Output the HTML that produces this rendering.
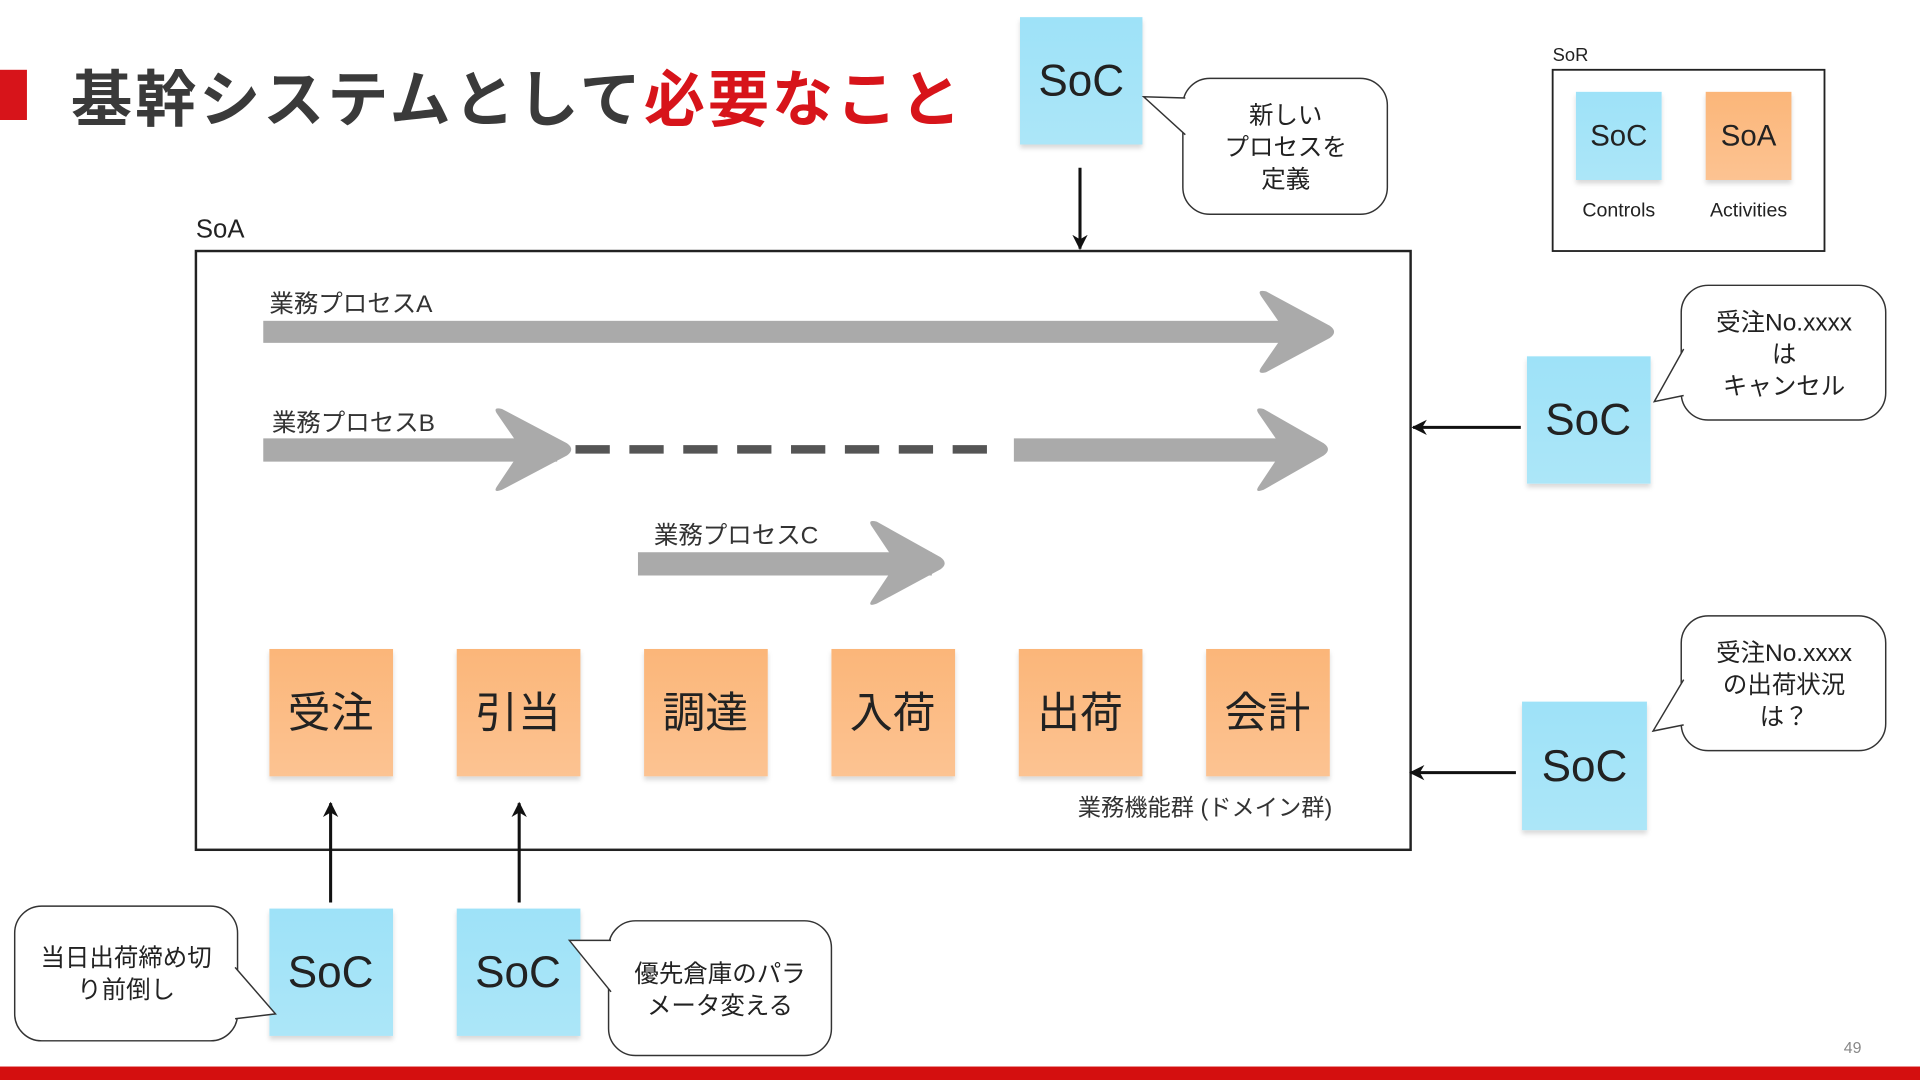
<!DOCTYPE html>
<html><head><meta charset="utf-8"><style>
html,body{margin:0;padding:0;background:#fff;width:1920px;height:1080px;overflow:hidden}
svg{display:block}
text{font-family:"Liberation Sans","Noto Sans CJK JP",sans-serif}
</style></head><body>
<svg width="1920" height="1080" viewBox="0 0 1568 882" preserveAspectRatio="none" xmlns="http://www.w3.org/2000/svg">
<defs>
<linearGradient id="b" x1="0" y1="0" x2="0" y2="1"><stop offset="0" stop-color="#9ee2f8"/><stop offset="1" stop-color="#ace6f8"/></linearGradient>
<linearGradient id="o" x1="0" y1="0" x2="0" y2="1"><stop offset="0" stop-color="#fbb679"/><stop offset="1" stop-color="#fcc392"/></linearGradient>
<filter id="s" x="-10%" y="-10%" width="120%" height="125%"><feDropShadow dx="0" dy="3" stdDeviation="2" flood-color="#000" flood-opacity="0.15"/></filter>
<marker id="ah" viewBox="0 0 10 10" refX="9" refY="5" markerWidth="5" markerHeight="5" orient="auto"><path d="M0,0 L10,5 L0,10 L3,5 z" fill="#111"/></marker>
</defs>

<!-- title -->
<rect x="0" y="57" width="22" height="41" fill="#d7141a"/>
<text x="58" y="99" font-size="50" font-weight="bold" fill="#3a3a3a" textLength="727" lengthAdjust="spacing">基幹システムとして<tspan fill="#d7141a">必要なこと</tspan></text>

<!-- legend -->
<text x="1268" y="50" font-size="15" fill="#222">SoR</text>
<rect x="1268" y="57" width="222" height="148" fill="#fff" stroke="#222" stroke-width="1.5"/>
<rect x="1287" y="75" width="70" height="72" fill="url(#b)" filter="url(#s)"/>
<rect x="1393" y="75" width="70" height="72" fill="url(#o)" filter="url(#s)"/>
<text x="1322" y="119" font-size="24" text-anchor="middle" fill="#222">SoC</text>
<text x="1428" y="119" font-size="24" text-anchor="middle" fill="#222">SoA</text>
<text x="1322" y="177" font-size="16" text-anchor="middle" fill="#222">Controls</text>
<text x="1428" y="177" font-size="16" text-anchor="middle" fill="#222">Activities</text>

<!-- SoA box -->
<text x="160" y="194" font-size="21" fill="#222">SoA</text>
<rect x="160" y="205" width="992" height="489" fill="#fff" stroke="#222" stroke-width="2"/>

<!-- process arrows -->
<g fill="#aaaaaa">
<text x="220" y="255" font-size="20" fill="#333">業務プロセスA</text>
<rect x="215" y="262" width="850" height="18"/>
<path d="M1030,242 Q1026,236 1034,238 L1086,266 Q1093,271 1086,276 L1034,304 Q1026,306 1030,300 L1050,271 Z"/>
<text x="222" y="352" font-size="20" fill="#333">業務プロセスB</text>
<rect x="215" y="358" width="240" height="19"/>
<path d="M406,338 Q402,332 410,334 L463,362 Q470,367 463,372 L410,400 Q402,403 406,397 L426,367 Z"/>
<rect x="828" y="358" width="235" height="19"/>
<path d="M1028,338 Q1024,332 1032,334 L1081,362 Q1088,367 1081,372 L1032,400 Q1024,403 1028,397 L1048,367 Z"/>
<text x="534" y="444" font-size="20" fill="#333">業務プロセスC</text>
<rect x="521" y="451" width="240" height="19"/>
<path d="M712,430 Q708,424 716,426 L768,455 Q775,460 768,465 L716,493 Q708,496 712,490 L732,460 Z"/>
</g>
<line x1="470" y1="367" x2="822" y2="367" stroke="#555" stroke-width="7" stroke-dasharray="28,16"/>

<!-- activity boxes -->
<g filter="url(#s)">
<rect x="220" y="530" width="101" height="104" fill="url(#o)"/>
<rect x="373" y="530" width="101" height="104" fill="url(#o)"/>
<rect x="526" y="530" width="101" height="104" fill="url(#o)"/>
<rect x="679" y="530" width="101" height="104" fill="url(#o)"/>
<rect x="832" y="530" width="101" height="104" fill="url(#o)"/>
<rect x="985" y="530" width="101" height="104" fill="url(#o)"/>
</g>
<g font-size="35" text-anchor="middle" fill="#222">
<text x="270" y="594">受注</text><text x="423" y="594">引当</text><text x="576" y="594">調達</text>
<text x="729" y="594">入荷</text><text x="882" y="594">出荷</text><text x="1035" y="594">会計</text>
</g>
<text x="1088" y="666" font-size="19" text-anchor="end" fill="#333">業務機能群 (ドメイン群)</text>

<!-- SoC notes -->
<g filter="url(#s)">
<rect x="833" y="14" width="100" height="104" fill="url(#b)"/>
<rect x="1247" y="291" width="101" height="104" fill="url(#b)"/>
<rect x="1243" y="573" width="102" height="105" fill="url(#b)"/>
<rect x="220" y="742" width="101" height="104" fill="url(#b)"/>
<rect x="373" y="742" width="101" height="104" fill="url(#b)"/>
</g>
<g font-size="36" text-anchor="middle" fill="#222">
<text x="883" y="78">SoC</text>
<text x="1297" y="355">SoC</text>
<text x="1294" y="638">SoC</text>
<text x="270" y="806">SoC</text>
<text x="423" y="806">SoC</text>
</g>

<!-- connectors -->
<g stroke="#111" stroke-width="2.5" marker-end="url(#ah)">
<line x1="882" y1="137" x2="882" y2="203"/>
<line x1="1242" y1="349" x2="1154" y2="349"/>
<line x1="1238" y1="631" x2="1152" y2="631"/>
<line x1="270" y1="737" x2="270" y2="656"/>
<line x1="424" y1="737" x2="424" y2="656"/>
</g>

<!-- bubbles -->
<g fill="#fff" stroke="#333" stroke-width="1.2">
<rect x="966" y="64" width="167" height="111" rx="22"/>
<polyline points="968,80 934,79 968,110"/>
<rect x="1373" y="233" width="167" height="110" rx="22"/>
<polyline points="1375,285 1351,328 1375,323"/>
<rect x="1373" y="503" width="167" height="110" rx="22"/>
<polyline points="1375,555 1350,597 1375,592"/>
<rect x="12" y="740" width="182" height="110" rx="22"/>
<polyline points="192,790 225,828 192,832"/>
<rect x="497" y="752" width="182" height="110" rx="22"/>
<polyline points="499,768 465,768 499,810"/>
</g>
<g font-size="20" text-anchor="middle" fill="#222">
<text x="1050" y="101">新しい</text><text x="1050" y="127">プロセスを</text><text x="1050" y="153">定義</text>
<text x="1457" y="270">受注No.xxxx</text><text x="1457" y="296">は</text><text x="1457" y="322">キャンセル</text>
<text x="1457" y="540">受注No.xxxx</text><text x="1457" y="566">の出荷状況</text><text x="1457" y="592">は？</text>
<text x="103" y="789">当日出荷締め切</text><text x="103" y="815">り前倒し</text>
<text x="588" y="802">優先倉庫のパラ</text><text x="588" y="828">メータ変える</text>
</g>

<text x="1513" y="860" font-size="13" text-anchor="middle" fill="#888">49</text>
<rect x="0" y="871" width="1568" height="11" fill="#d40f0f"/>
</svg>
</body></html>
